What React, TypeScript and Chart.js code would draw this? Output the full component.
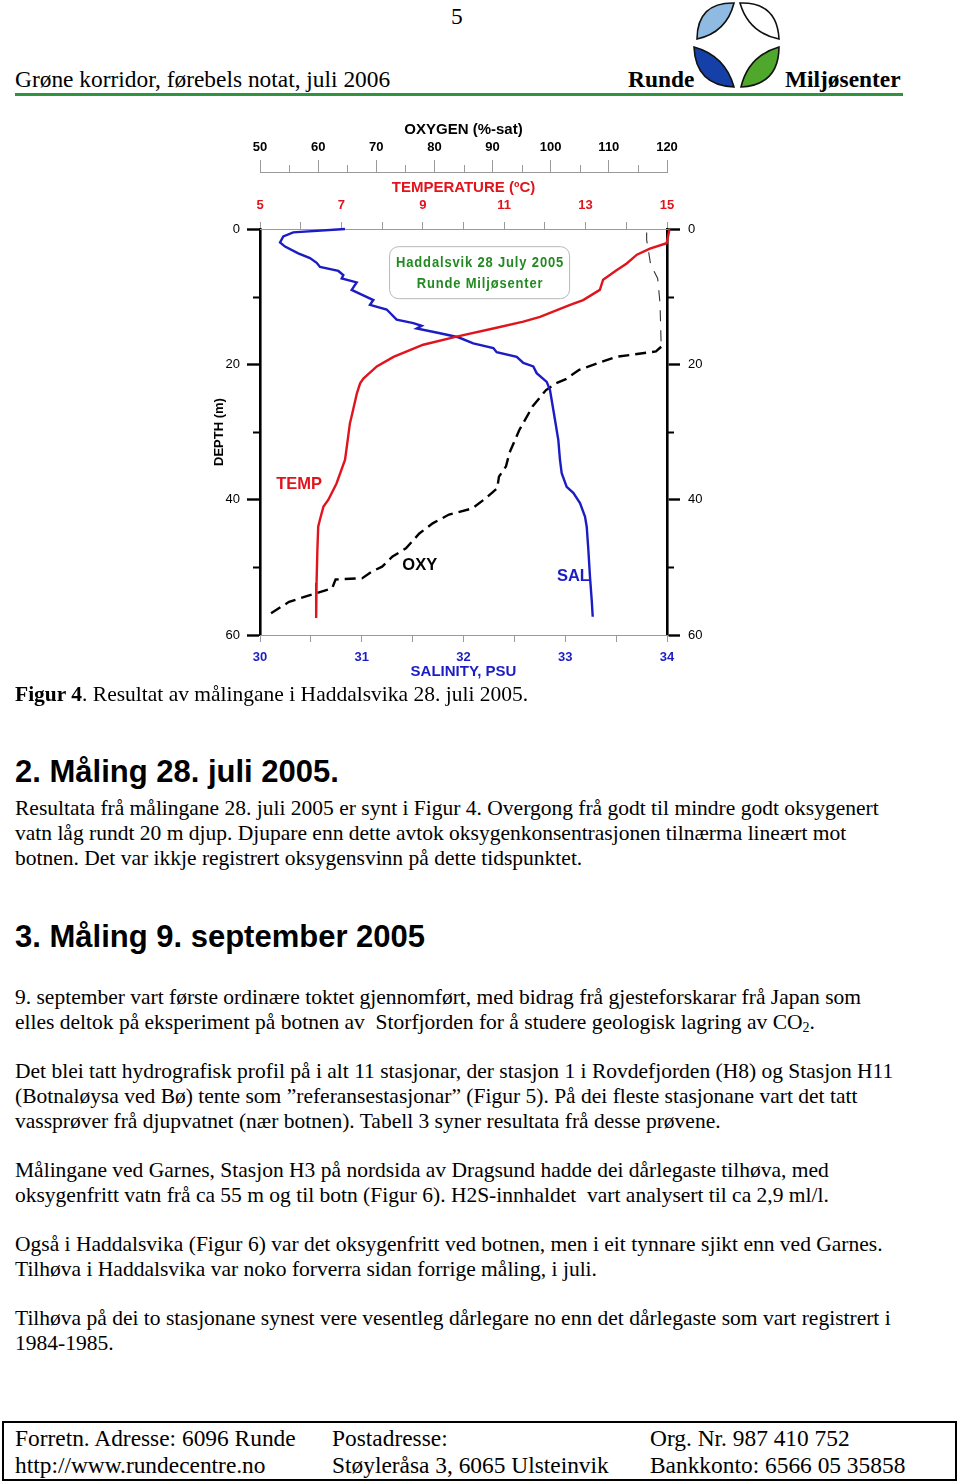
import React, { useEffect, useRef } from "react";
import { Chart, registerables } from "chart.js";

Chart.register(...registerables);

// ---------------- DATA ----------------
// Temperature profile (depth m, temperature °C)
const tempDepth = [0, 0.4, 2.1, 2.9, 3.8, 5.1, 6.1, 7.5, 9.0, 10.5, 11.2, 13.0, 13.7, 14.7, 15.9, 17.1, 18.9, 20.3, 22.1, 22.8, 24.3, 27.7, 28.7, 34.1, 37.6, 40.0, 41.0, 43.0, 44.0, 47.4, 52.3, 57.5];
const tempValue = [15.05, 15.05, 14.99, 14.58, 14.26, 14.01, 13.76, 13.43, 13.35, 12.94, 12.62, 11.88, 11.47, 10.73, 9.83, 9.01, 8.28, 7.87, 7.54, 7.46, 7.38, 7.25, 7.21, 7.09, 6.88, 6.68, 6.56, 6.47, 6.43, 6.41, 6.39, 6.38];

// Salinity profile (depth m, PSU)
const salDepth = [0, 0.5, 1.1, 2.0, 2.6, 3.6, 4.3, 5.0, 5.6, 6.2, 6.8, 7.3, 7.9, 9.0, 9.8, 10.5, 11.2, 11.9, 13.4, 13.9, 14.3, 14.7, 15.4, 16.0, 16.9, 17.6, 18.2, 18.9, 19.8, 20.3, 21.3, 22.6, 23.8, 25.3, 28.2, 31.2, 34.1, 36.1, 38.1, 39.0, 40.5, 42.5, 44.0, 47.4, 51.4, 54.8, 57.3];
const salValue = [30.835, 30.327, 30.229, 30.197, 30.246, 30.376, 30.491, 30.557, 30.59, 30.77, 30.819, 30.803, 30.95, 30.901, 31.015, 31.114, 31.081, 31.245, 31.343, 31.507, 31.589, 31.54, 31.769, 31.949, 32.096, 32.293, 32.326, 32.523, 32.588, 32.686, 32.719, 32.818, 32.85, 32.867, 32.899, 32.932, 32.948, 32.965, 33.014, 33.079, 33.145, 33.194, 33.211, 33.227, 33.243, 33.26, 33.27];

// Oxygen profile (depth m, % saturation)
const oxyDepth = [0.5, 1.6, 5.3, 7.3, 11.0, 17.4, 18.1, 18.9, 20.8, 22.2, 22.8, 23.8, 26.2, 29.7, 33.1, 35.1, 36.6, 38.3, 39.8, 41.3, 42.2, 43.5, 45.0, 47.2, 48.4, 49.9, 50.6, 51.6, 51.8, 53.1, 54.3, 55.1, 57.0];
const oxyValue = [116.5, 116.5, 117.2, 118.4, 118.8, 119.0, 118.1, 111.2, 104.9, 102.6, 100.9, 99.2, 96.9, 94.6, 92.9, 92.3, 91.1, 90.8, 88.8, 86.5, 82.5, 79.7, 77.4, 75.1, 72.8, 71.0, 69.3, 67.6, 63.0, 62.4, 57.9, 55.0, 51.5];

// Tick values
const depthMinorTicks = [10, 30, 50];
const oxyMinorTicks = [55, 65, 75, 85, 95, 105, 115];

// Labels
const curveLabels = [
  { text: "TEMP", sal: 30.385, depth: 37.7, color: "#e0141c" },
  { text: "OXY", sal: 31.57, depth: 49.75, color: "#000000" },
  { text: "SAL", sal: 33.08, depth: 51.35, color: "#1c1cc4" },
];
const stationLines = ["Haddalsvik 28 July 2005", "Runde Miljøsenter"];

const RED = "#e0141c";
const BLUE = "#1c1cc4";
const AXIS_GREY = "#9a9a9a";
const FONT = "'Liberation Sans', Arial, Helvetica, sans-serif";

const toPts = (ys: number[], xs: number[]) => ys.map((d, i) => ({ x: xs[i], y: d }));

const minorTicksPlugin = {
  id: "minorTicks",
  afterDraw(chart: any) {
    const { ctx, chartArea, scales } = chart;
    const y = scales.y;
    ctx.save();
    ctx.strokeStyle = "#000";
    ctx.lineWidth = 2.2;
    depthMinorTicks.forEach((d) => {
      const py = Math.round(y.getPixelForValue(d)) + 0.5;
      ctx.beginPath();
      ctx.moveTo(chartArea.left - 7, py);
      ctx.lineTo(chartArea.left, py);
      ctx.moveTo(chartArea.right, py);
      ctx.lineTo(chartArea.right + 7, py);
      ctx.stroke();
    });
    const ox = scales.xOxy;
    ctx.strokeStyle = AXIS_GREY;
    ctx.lineWidth = 1;
    oxyMinorTicks.forEach((v) => {
      const px = Math.round(ox.getPixelForValue(v)) + 0.5;
      ctx.beginPath();
      ctx.moveTo(px, ox.bottom - 7);
      ctx.lineTo(px, ox.bottom);
      ctx.stroke();
    });
    ctx.restore();
  },
};

const annotationPlugin = {
  id: "annot",
  afterDatasetsDraw(chart: any) {
    const { ctx, scales } = chart;
    const xs = scales.xSal;
    const y = scales.y;
    ctx.save();
    ctx.textAlign = "center";
    ctx.textBaseline = "middle";
    ctx.font = `bold 16.5px ${FONT}`;
    curveLabels.forEach((l) => {
      ctx.fillStyle = l.color;
      ctx.fillText(l.text, xs.getPixelForValue(l.sal), y.getPixelForValue(l.depth));
    });
    // station box
    const cx = xs.getPixelForValue(32.153);
    const cy = y.getPixelForValue(6.38);
    const w = 180, h = 52;
    ctx.beginPath();
    ctx.roundRect(cx - w / 2 + 0.5, cy - h / 2 + 0.5, w, h, 9);
    ctx.fillStyle = "#fff";
    ctx.fill();
    ctx.strokeStyle = "#b8b8b8";
    ctx.lineWidth = 1;
    ctx.stroke();
    ctx.fillStyle = "#238a23";
    ctx.font = `bold 15.5px ${FONT}`;
    (ctx as any).letterSpacing = "1px";
    const w0 = ctx.measureText(stationLines[0]).width;
    const sx = 168 / w0;
    const offs = [-9, 12];
    stationLines.forEach((t, i) => {
      ctx.save();
      ctx.translate(cx + 1, cy + offs[i]);
      ctx.scale(sx, 1);
      ctx.fillText(t, 0, 0);
      ctx.restore();
    });
    ctx.restore();
  },
};

function ChartBox() {
  const ref = useRef<HTMLCanvasElement>(null);
  useEffect(() => {
    if (!ref.current) return;
    Chart.defaults.font.family = FONT;
    const chart = new Chart(ref.current, {
      type: "scatter",
      data: {
        datasets: [
          {
            label: "TEMP",
            data: toPts(tempDepth, tempValue),
            xAxisID: "xTemp",
            yAxisID: "y",
            showLine: true,
            borderColor: RED,
            borderWidth: 2.4,
            pointRadius: 0,
            clip: false,
          },
          {
            label: "SAL",
            data: toPts(salDepth, salValue),
            xAxisID: "xSal",
            yAxisID: "y",
            showLine: true,
            borderColor: BLUE,
            borderWidth: 2.4,
            pointRadius: 0,
            clip: false,
          },
          {
            label: "OXY",
            data: toPts(oxyDepth, oxyValue),
            xAxisID: "xOxy",
            yAxisID: "y",
            showLine: true,
            borderColor: "#000",
            borderWidth: 2.4,
            borderDash: [11, 6],
            pointRadius: 0,
            clip: false,
            segment: {
              borderWidth: (c: any) => (c.p1.parsed.y <= 17.5 ? 1.1 : 2.4),
              borderDash: (c: any) => (c.p1.parsed.y <= 17.5 ? [11, 9] : [11, 6]),
              borderColor: (c: any) => (c.p1.parsed.y <= 17.5 ? "#333" : "#000"),
            },
          },
        ],
      },
      options: {
        animation: false,
        responsive: false,
        layout: { padding: 0 },
        plugins: { legend: { display: false }, tooltip: { enabled: false } },
        scales: {
          y: {
            type: "linear",
            position: "left",
            reverse: true,
            min: 0,
            max: 60,
            ticks: { stepSize: 20, color: "#000", font: { size: 13 }, padding: 7 },
            grid: { drawOnChartArea: false, drawTicks: true, tickLength: 13, tickWidth: 2.4, tickColor: "#000" },
            border: { display: true, color: "#000", width: 2.6 },
            title: { display: true, text: "DEPTH (m)", color: "#000", font: { size: 13, weight: "bold" }, padding: { top: 12, bottom: 0 } },
            afterFit: (s: any) => { s.width = 60; },
          },
          y2: {
            type: "linear",
            position: "right",
            reverse: true,
            min: 0,
            max: 60,
            ticks: { stepSize: 20, color: "#000", font: { size: 13 }, padding: 8 },
            grid: { drawOnChartArea: false, drawTicks: true, tickLength: 13, tickWidth: 2.4, tickColor: "#000" },
            border: { display: true, color: "#000", width: 2.6 },
            afterFit: (s: any) => { s.width = 53; },
          },
          xSal: {
            type: "linear",
            position: "bottom",
            min: 30,
            max: 34,
            ticks: {
              stepSize: 0.5,
              autoSkip: false,
              maxRotation: 0,
              color: BLUE,
              font: { size: 13, weight: "bold" },
              padding: 8,
              callback: (v: any) => (Number.isInteger(v) ? String(v) : ""),
            },
            grid: { drawOnChartArea: false, tickLength: 7, tickColor: AXIS_GREY, tickWidth: 1 },
            border: { display: true, color: AXIS_GREY, width: 1 },
            title: { display: true, text: "SALINITY, PSU", color: BLUE, font: { size: 15, weight: "bold" }, padding: { top: 0, bottom: 9 } },
            afterFit: (s: any) => { s.height = 55; },
          },
          xTemp: {
            type: "linear",
            position: "top",
            weight: 0,
            min: 5,
            max: 15,
            ticks: {
              stepSize: 1,
              autoSkip: false,
              maxRotation: 0,
              color: RED,
              font: { size: 13, weight: "bold" },
              padding: 9,
              callback: (v: any) => (Number(v) % 2 === 1 ? String(v) : ""),
            },
            grid: { drawOnChartArea: false, tickLength: 7, tickColor: AXIS_GREY, tickWidth: 1 },
            border: { display: true, color: AXIS_GREY, width: 1 },
            title: { display: true, text: "TEMPERATURE (ºC)", color: RED, font: { size: 15, weight: "bold" }, padding: { top: 7, bottom: 0 } },
            afterFit: (s: any) => { s.height = 57; },
          },
          xOxy: {
            type: "linear",
            position: "top",
            weight: 10,
            min: 50,
            max: 120,
            ticks: {
              stepSize: 10,
              autoSkip: false,
              maxRotation: 0,
              color: "#000",
              font: { size: 13, weight: "bold" },
              padding: 5,
            },
            grid: { drawOnChartArea: false, tickLength: 12, tickColor: AXIS_GREY, tickWidth: 1 },
            border: { display: true, color: AXIS_GREY, width: 1 },
            title: { display: true, text: "OXYGEN (%-sat)", color: "#000", font: { size: 15, weight: "bold" }, padding: { top: 6, bottom: 0 } },
            afterFit: (s: any) => { s.height = 57; },
          },
        },
      } as any,
      plugins: [minorTicksPlugin, annotationPlugin],
    } as any);
    return () => chart.destroy();
  }, []);
  return (
    <canvas
      ref={ref}
      width={520}
      height={575}
      style={{ position: "absolute", left: 200, top: 115, width: 520, height: 575 }}
    />
  );
}

const SERIF = "'Liberation Serif', 'Times New Roman', Times, serif";
const SANS = "'Liberation Sans', Arial, Helvetica, sans-serif";

function lens(x1: number, y1: number, x2: number, y2: number, b1: number, b2: number) {
  const mx = (x1 + x2) / 2, my = (y1 + y2) / 2;
  const dx = x2 - x1, dy = y2 - y1;
  const len = Math.hypot(dx, dy);
  const nx = -dy / len, ny = dx / len;
  const c1x = mx + nx * 2 * b1, c1y = my + ny * 2 * b1;
  const c2x = mx - nx * 2 * b2, c2y = my - ny * 2 * b2;
  return `M${x1},${y1} Q${c1x},${c1y} ${x2},${y2} Q${c2x},${c2y} ${x1},${y1} Z`;
}

function Logo() {
  return (
    <svg width={110} height={95} viewBox="680 0 110 95" style={{ position: "absolute", left: 680, top: 0 }}>
      <path d={lens(734, 3, 697, 39, 13, 8)} fill="#8fbbe3" stroke="#111" strokeWidth={1.6} />
      <path d={lens(740, 3, 779, 39, 8, 13)} fill="#ffffff" stroke="#111" strokeWidth={1.6} />
      <path d={lens(694, 47, 734, 87, 13, 8)} fill="#1540a8" stroke="#111" strokeWidth={1.6} />
      <path d={lens(779, 47, 741, 87, 8, 13)} fill="#4fa82c" stroke="#111" strokeWidth={1.6} />
    </svg>
  );
}

const bodyStyle: React.CSSProperties = {
  position: "absolute",
  left: 15,
  fontFamily: SERIF,
  fontSize: 21.5,
  lineHeight: "25px",
  whiteSpace: "pre",
  color: "#000",
  margin: 0,
};

const headStyle: React.CSSProperties = {
  position: "absolute",
  left: 15,
  fontFamily: SANS,
  fontWeight: "bold",
  fontSize: 31,
  lineHeight: "36px",
  whiteSpace: "pre",
  color: "#000",
};

function Lines({ top, lines }: { top: number; lines: React.ReactNode[] }) {
  return (
    <div style={{ ...bodyStyle, top }}>
      {lines.map((l, i) => (
        <div key={i}>{l}</div>
      ))}
    </div>
  );
}

export default function App() {
  const hdr: React.CSSProperties = {
    position: "absolute",
    fontFamily: SERIF,
    fontSize: 23.4,
    lineHeight: "27px",
    whiteSpace: "pre",
    color: "#000",
  };
  return (
    <div style={{ position: "absolute", left: 0, top: 0, width: 960, height: 1482, background: "#fff", overflow: "hidden" }}>
      {/* Header */}
      <div style={{ ...hdr, left: 451, top: 3 }}>5</div>
      <div style={{ ...hdr, left: 15, top: 66 }}>Grøne korridor, førebels notat, juli 2006</div>
      <div style={{ ...hdr, left: 628, top: 66, fontWeight: "bold" }}>Runde</div>
      <div style={{ ...hdr, left: 785, top: 66, fontWeight: "bold" }}>Miljøsenter</div>
      <Logo />
      <div style={{ position: "absolute", left: 15, top: 93, width: 888, height: 3, background: "#2e9440" }} />

      {/* Chart */}
      <ChartBox />

      {/* Caption */}
      <div style={{ ...bodyStyle, top: 681.5 }}>
        <b>Figur 4</b>. Resultat av målingane i Haddalsvika 28. juli 2005.
      </div>

      <div style={{ ...headStyle, top: 754 }}>2. Måling 28. juli 2005.</div>
      <Lines
        top={795.5}
        lines={[
          "Resultata frå målingane 28. juli 2005 er synt i Figur 4. Overgong frå godt til mindre godt oksygenert",
          "vatn låg rundt 20 m djup. Djupare enn dette avtok oksygenkonsentrasjonen tilnærma lineært mot",
          "botnen. Det var ikkje registrert oksygensvinn på dette tidspunktet.",
        ]}
      />

      <div style={{ ...headStyle, top: 919 }}>3. Måling 9. september 2005</div>
      <Lines
        top={984.5}
        lines={[
          "9. september vart første ordinære toktet gjennomført, med bidrag frå gjesteforskarar frå Japan som",
          <>
            {"elles deltok på eksperiment på botnen av  Storfjorden for å studere geologisk lagring av CO"}
            <sub style={{ fontSize: 14, verticalAlign: "-3px", lineHeight: 0 }}>2</sub>.
          </>,
        ]}
      />
      <Lines
        top={1058.5}
        lines={[
          "Det blei tatt hydrografisk profil på i alt 11 stasjonar, der stasjon 1 i Rovdefjorden (H8) og Stasjon H11",
          "(Botnaløysa ved Bø) tente som ”referansestasjonar” (Figur 5). På dei fleste stasjonane vart det tatt",
          "vassprøver frå djupvatnet (nær botnen). Tabell 3 syner resultata frå desse prøvene.",
        ]}
      />
      <Lines
        top={1157.5}
        lines={[
          "Målingane ved Garnes, Stasjon H3 på nordsida av Dragsund hadde dei dårlegaste tilhøva, med",
          "oksygenfritt vatn frå ca 55 m og til botn (Figur 6). H2S-innhaldet  vart analysert til ca 2,9 ml/l.",
        ]}
      />
      <Lines
        top={1231.5}
        lines={[
          "Også i Haddalsvika (Figur 6) var det oksygenfritt ved botnen, men i eit tynnare sjikt enn ved Garnes.",
          "Tilhøva i Haddalsvika var noko forverra sidan forrige måling, i juli.",
        ]}
      />
      <Lines
        top={1305.5}
        lines={[
          "Tilhøva på dei to stasjonane synest vere vesentleg dårlegare no enn det dårlegaste som vart registrert i",
          "1984-1985.",
        ]}
      />

      {/* Footer */}
      <div
        style={{
          position: "absolute",
          left: 2,
          top: 1421,
          width: 955,
          height: 60,
          border: "2px solid #000",
          boxSizing: "border-box",
        }}
      />
      <div style={{ ...hdr, left: 15, top: 1425 }}>{"Forretn. Adresse: 6096 Runde\nhttp://www.rundecentre.no"}</div>
      <div style={{ ...hdr, left: 332, top: 1425 }}>{"Postadresse:\nStøyleråsa 3, 6065 Ulsteinvik"}</div>
      <div style={{ ...hdr, left: 650, top: 1425 }}>{"Org. Nr. 987 410 752\nBankkonto: 6566 05 35858"}</div>
    </div>
  );
}
